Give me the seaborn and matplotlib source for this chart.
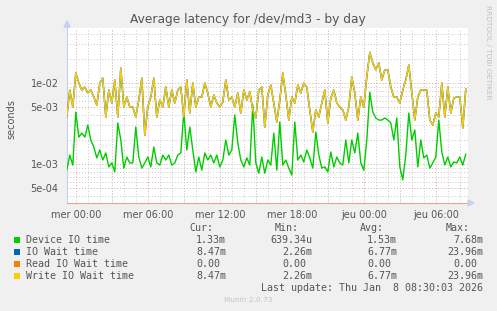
import numpy as np
import pandas as pd
import matplotlib
matplotlib.use("Agg")
import matplotlib.pyplot as plt
import matplotlib.ticker as mticker
import matplotlib.dates as mdates
from matplotlib.patches import Rectangle, Polygon
import seaborn as sns

# ---------------- data (values in milliseconds, 15-minute samples) ----------------
start_time = "2026-01-06 23:15"
sample_freq = "15min"

device_io_ms = [
    0.84, 1.29, 0.97, 4.38, 2.15, 2.41, 2.15, 3.03, 1.98, 1.62, 1.19, 1.49, 1.12, 1.37,
    0.92, 1.03, 0.80, 3.21, 1.98, 0.89, 1.22, 1.03, 1.03, 2.86, 1.22, 0.89, 1.03, 1.22,
    0.92, 1.62, 1.03, 0.97, 1.29, 1.12, 1.29, 0.97, 1.03, 1.29, 1.37, 4.38, 1.49, 2.86,
    1.49, 0.80, 1.22, 0.84, 1.37, 1.12, 1.29, 1.03, 1.29, 0.92, 1.12, 1.98, 1.29, 1.49,
    4.03, 1.82, 1.12, 0.92, 1.19, 0.97, 5.35, 1.03, 0.77, 1.22, 0.77, 1.12, 0.97, 2.41,
    0.84, 3.30, 0.97, 1.12, 0.89, 0.73, 3.30, 1.12, 1.29, 1.06, 1.49, 1.19, 0.89, 2.48,
    1.29, 0.89, 0.92, 0.80, 1.41, 0.92, 1.22, 1.03, 0.97, 1.98, 1.03, 1.98, 1.37, 2.41,
    1.03, 0.84, 1.98, 7.68, 4.38, 3.70, 3.49, 3.49, 3.70, 3.49, 3.21, 1.98, 3.70, 0.92,
    0.639, 1.29, 4.26, 1.98, 2.63, 0.92, 1.98, 1.19, 1.29, 0.89, 1.03, 1.22, 3.49, 1.41,
    0.97, 1.22, 0.92, 1.06, 1.03, 1.22, 0.97, 1.33,
]

write_io_wait_ms = [
    3.80, 8.20, 5.06, 13.3, 10.0, 8.20, 8.92, 7.53, 8.20, 6.71, 5.35, 10.0, 11.5, 3.80,
    8.20, 5.66, 10.9, 3.80, 15.3, 5.06, 6.71, 5.06, 5.06, 3.80, 6.17, 11.5, 2.26, 5.06,
    6.71, 11.5, 3.80, 6.17, 5.06, 8.92, 5.06, 8.20, 5.66, 8.20, 8.92, 3.80, 10.9, 4.26,
    10.0, 5.06, 6.71, 6.71, 10.0, 7.53, 5.06, 7.11, 5.66, 5.06, 5.83, 10.9, 6.17, 6.71,
    5.06, 7.53, 4.26, 8.20, 6.17, 7.74, 4.64, 3.70, 8.20, 8.92, 2.86, 7.11, 9.44, 5.66,
    3.30, 6.17, 13.3, 7.11, 3.49, 6.71, 5.66, 9.44, 7.53, 10.0, 8.92, 4.64, 2.48, 4.64,
    3.80, 5.66, 8.20, 3.21, 6.53, 8.20, 5.66, 5.06, 4.64, 3.49, 5.06, 11.9, 7.53, 3.49,
    6.71, 5.06, 11.9, 23.96, 17.7, 14.5, 17.7, 10.9, 14.5, 14.5, 8.92, 6.71, 6.71, 5.66,
    8.20, 10.9, 16.7, 7.53, 3.49, 6.71, 8.20, 8.20, 8.20, 3.49, 3.03, 4.26, 3.80, 10.0,
    3.80, 8.92, 4.26, 6.53, 6.71, 6.71, 2.78, 8.47,
]

# total IO wait equals write wait (reads are zero)
io_wait_ms = list(write_io_wait_ms)
read_io_wait_ms = [0.0] * len(device_io_ms)

series_names = ["Device IO time", "IO Wait time", "Read IO Wait time", "Write IO Wait time"]
series_colors = ["#00CC00", "#0066B3", "#FF8000", "#FFCC00"]

cur_vals = ["1.33m", "8.47m", "0.00", "8.47m"]
min_vals = ["639.34u", "2.26m", "0.00", "2.26m"]
avg_vals = ["1.53m", "6.77m", "0.00", "6.77m"]
max_vals = ["7.68m", "23.96m", "0.00", "23.96m"]

tick_times = ["2026-01-07 00:00", "2026-01-07 06:00", "2026-01-07 12:00",
              "2026-01-07 18:00", "2026-01-08 00:00", "2026-01-08 06:00"]
tick_labels = ["mer 00:00", "mer 06:00", "mer 12:00", "mer 18:00", "jeu 00:00", "jeu 06:00"]

x_start = "2026-01-06 23:16"
x_end = "2026-01-08 08:41"
y_min, y_max = 3.30e-4, 4.78e-2

title = "Average latency for /dev/md3 - by day"
last_update = "Last update: Thu Jan  8 08:30:03 2026"

# ---------------- build long table ----------------
times = pd.date_range(start=start_time, periods=len(device_io_ms), freq=sample_freq)
frames = []
for name, vals in zip(series_names, [device_io_ms, io_wait_ms, read_io_wait_ms, write_io_wait_ms]):
    v = np.array(vals, dtype=float) / 1000.0
    v[v <= 0] = np.nan  # zeros cannot be shown on a log scale
    frames.append(pd.DataFrame({"time": times, "value": v, "series": name}))
df = pd.concat(frames, ignore_index=True)

# ---------------- figure ----------------
sns.set_style("white")
plt.rcParams["font.family"] = ["DejaVu Sans"]

W, H = 497, 311
BG = "#F0F0F0"
TXT = "#555555"
fig = plt.figure(figsize=(W / 100, H / 100), dpi=100, facecolor=BG)
L, R, T, B = 67, 468, 28, 203
ax = fig.add_axes([L / W, 1 - B / H, (R - L) / W, (B - T) / H])
ax.set_facecolor("white")

widths = {"Device IO time": 1.0, "IO Wait time": 1.1, "Read IO Wait time": 1.0, "Write IO Wait time": 1.0}
for name, col in zip(series_names, series_colors):
    sub = df[df["series"] == name]
    if sub["value"].notna().any():
        sns.lineplot(data=sub, x="time", y="value", color=col, linewidth=widths[name],
                     ax=ax, estimator=None, legend=False, zorder=3)

ax.set_yscale("log")
ax.set_ylim(y_min, y_max)
ax.set_xlim(pd.Timestamp(x_start), pd.Timestamp(x_end))

# y ticks / grid
ax.yaxis.set_major_locator(mticker.LogLocator(base=10, subs=(1.0, 5.0), numticks=20))
ax.yaxis.set_major_formatter(mticker.FuncFormatter(lambda v, p: "{:.0e}".format(v)))
ax.yaxis.set_minor_locator(mticker.LogLocator(base=10, subs=(2, 3, 4, 6, 7, 8, 9), numticks=20))
ax.yaxis.set_minor_formatter(mticker.NullFormatter())

# x ticks / grid
ax.set_xticks(pd.to_datetime(tick_times), tick_labels)
ax.xaxis.set_minor_locator(mdates.HourLocator(interval=1))

major_kw = dict(color="#e2a8a8", linestyle=(0, (1, 2)), linewidth=0.7)
minor_kw = dict(color="#c8c8c8", linestyle=(0, (1, 2)), linewidth=0.7)
ax.grid(True, which="major", **major_kw)
ax.grid(True, which="minor", **minor_kw)
# extra major vertical lines every 3 hours
for t in pd.date_range("2026-01-07 03:00", "2026-01-08 03:00", freq="6h"):
    ax.axvline(t, zorder=0.5, **major_kw)
ax.set_axisbelow(True)

ax.tick_params(axis="both", which="both", length=0, colors=TXT, labelsize=7)
ax.tick_params(axis="y", pad=6)
ax.tick_params(axis="x", pad=5)
ax.set_xlabel("")
ax.set_ylabel("")

for s in ["top", "right"]:
    ax.spines[s].set_visible(False)
ax.spines["left"].set_color("#c8d0f0")
ax.spines["bottom"].set_color("#e0a898")
ax.spines["left"].set_linewidth(0.8)
ax.spines["bottom"].set_linewidth(0.8)

def fx(x):
    return x / W

def fy(y):
    return 1 - y / H

# axis arrows
fig.patches.append(Polygon([(fx(64), fy(27)), (fx(70), fy(27)), (fx(67), fy(21))],
                           closed=True, transform=fig.transFigure, color="#c8d0f0"))
fig.patches.append(Polygon([(fx(468), fy(200)), (fx(468), fy(206)), (fx(474), fy(203))],
                           closed=True, transform=fig.transFigure, color="#c8d0f0"))

# titles and side texts
fig.text(fx(248), fy(19), title, ha="center", va="center", fontsize=8.8, color=TXT)
fig.text(fx(11), fy(119), "seconds", rotation=90, ha="center", va="center", fontsize=7.0, color=TXT)
fig.text(fx(488), fy(5), "RRDTOOL / TOBI OETIKER", rotation=270, ha="center", va="top",
         fontsize=5.3, color="#c0c0c0")
fig.text(fx(248), fy(300), "Munin 2.0.73", ha="center", va="center", fontsize=5.3, color="#c4c4c4")

# legend block
MONO = ["DejaVu Sans Mono"]
mfs = 7.2
cw = 6.0
head_y = 228
fig.text(fx(213), fy(head_y), "Cur:", ha="right", va="center", family=MONO, fontsize=mfs, color=TXT)
fig.text(fx(299), fy(head_y), "Min:", ha="right", va="center", family=MONO, fontsize=mfs, color=TXT)
fig.text(fx(384), fy(head_y), "Avg:", ha="right", va="center", family=MONO, fontsize=mfs, color=TXT)
fig.text(fx(470), fy(head_y), "Max:", ha="right", va="center", family=MONO, fontsize=mfs, color=TXT)

col_right = [226, 312, 397, 483]
row_y = [240, 252, 264, 276]
for i, (name, col) in enumerate(zip(series_names, series_colors)):
    y = row_y[i]
    fig.patches.append(Rectangle((fx(14), fy(y + 3)), 6 / W, 6 / H, transform=fig.transFigure,
                                 facecolor=col, edgecolor=col, linewidth=0))
    fig.text(fx(26), fy(y), name, ha="left", va="center", family=MONO, fontsize=mfs, color=TXT)
    for xr, vals in zip(col_right, [cur_vals, min_vals, avg_vals, max_vals]):
        s = vals[i]
        xpos = xr if s[-1].isalpha() else xr - cw
        fig.text(fx(xpos), fy(y), s, ha="right", va="center", family=MONO, fontsize=mfs, color=TXT)

fig.text(fx(483), fy(288), last_update, ha="right", va="center", family=MONO, fontsize=mfs, color=TXT)

fig.savefig("out.png", dpi=100, facecolor=BG)
